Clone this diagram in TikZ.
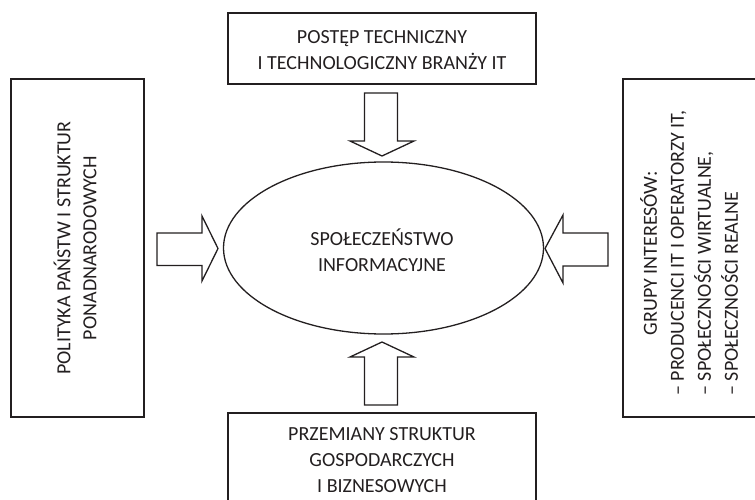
\documentclass[tikz,border=0pt]{standalone}
\usepackage{fontspec}
\setmainfont{Carlito}
\usetikzlibrary{shapes.geometric}
\definecolor{ink}{HTML}{231F20}
\tikzset{
  box/.style={draw=ink, line width=1.5pt, rectangle, inner sep=0pt},
  txt/.style={text=ink, align=center, inner sep=0pt},
  barrow/.style={draw=ink, line width=1.3pt, fill=white, line join=miter},
}
\begin{document}
\begin{tikzpicture}[x=1pt, y=-1pt, font=\fontsize{20}{25.5}\selectfont]
\useasboundingbox (0,0) rectangle (755,500);
\clip (0,0) rectangle (755,500);
% boxes
\node[box, minimum width=308, minimum height=71] (topbox) at (382,48.5) {};
\node[txt] (toptext) at (382,50) {POSTĘP TECHNICZNY\\I TECHNOLOGICZNY BRANŻY IT};
\node[box, minimum width=133, minimum height=338] (leftbox) at (77.5,248) {};
\node[txt, rotate=90, font=\fontsize{20}{26}\selectfont] (lefttext) at (75,248) {POLITYKA PAŃSTW I STRUKTUR\\PONADNARODOWYCH};
\node[box, minimum width=147, minimum height=338] (rightbox) at (696.5,248) {};
\node[txt, rotate=90, font=\fontsize{20}{27}\selectfont] (righttext) at (692,253)
  {\begin{tabular}{@{}l@{}}\multicolumn{1}{@{}c@{}}{GRUPY INTERESÓW:}\\
   – PRODUCENCI IT I OPERATORZY IT,\\ – SPOŁECZNOŚCI WIRTUALNE,\\ – SPOŁECZNOŚCI REALNE\end{tabular}};
\node[box, minimum width=308, minimum height=120] (botbox) at (382,473) {};
\node[txt, font=\fontsize{20}{26}\selectfont] (bottext) at (382,460) {PRZEMIANY STRUKTUR\\GOSPODARCZYCH\\I BIZNESOWYCH};
% ellipse
\node[ellipse, draw=ink, line width=1.3pt, minimum width=320, minimum height=172, inner sep=0pt] (soc) at (383.5,248) {};
\node[txt] (soctext) at (382,250) {SPOŁECZEŃSTWO\\INFORMACYJNE};
% block arrows
\draw[barrow] (364.5,93) -- (397.5,93) -- (397.5,141) -- (414,141) -- (382,156) -- (350,141) -- (364.5,141) -- cycle;
\draw[barrow] (364.5,405) -- (397.5,405) -- (397.5,357) -- (414,357) -- (382,342) -- (350,357) -- (364.5,357) -- cycle;
\draw[barrow] (157,233) -- (157,265.5) -- (202,265.5) -- (202,281) -- (218,248.5) -- (202,216) -- (202,233) -- cycle;
\draw[barrow] (608,233) -- (608,266) -- (563,266) -- (563,283) -- (545,248.5) -- (563,215) -- (563,233) -- cycle;
\end{tikzpicture}
\end{document}
